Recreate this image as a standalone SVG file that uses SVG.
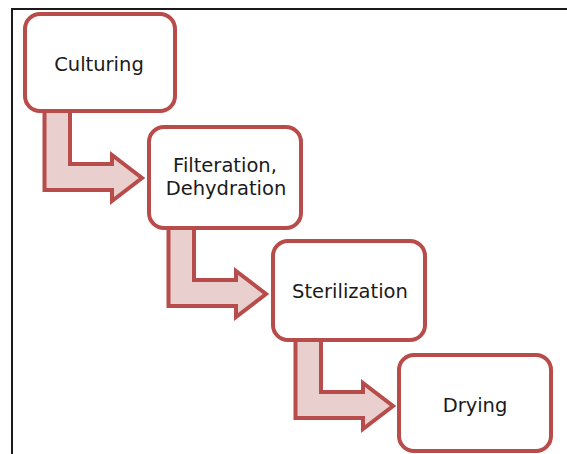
<svg xmlns="http://www.w3.org/2000/svg" width="567" height="454" viewBox="0 0 567 454">
  <defs>
    <style>
      .frame { fill: none; stroke: #1a1a1a; stroke-width: 2; }
      .box { fill: #ffffff; stroke: #B84C4A; stroke-width: 4; }
      .arrow { fill: #E9CFCE; stroke: #B84C4A; stroke-width: 4; stroke-linejoin: miter; }
      .label { font-family: "DejaVu Sans", "Liberation Sans", sans-serif; font-size: 19.5px; fill: #1a1a1a; text-anchor: middle; }
    </style>
    <path id="bent" d="M44.5,108 L70,108 L70,164 L112,164 L112,155 L142,178 L112,201 L112,190 L44.5,190 Z"/>
  </defs>
  <rect width="567" height="454" fill="#ffffff"/>
  <path class="frame" d="M12,455 L12,9 L568,9"/>
  <g id="connectors">
    <use href="#bent" class="arrow"/>
    <use href="#bent" class="arrow" transform="translate(124,116)"/>
    <use href="#bent" class="arrow" transform="translate(251,228)"/>
  </g>
  <g id="culturing">
    <rect class="box" x="25" y="14" width="150" height="97" rx="15"/>
    <text class="label" x="99" y="71">Culturing</text>
  </g>
  <g id="filteration">
    <rect class="box" x="149" y="127" width="152" height="101" rx="15"/>
    <text class="label" x="225" y="171.5">Filteration,</text>
    <text class="label" x="226" y="195">Dehydration</text>
  </g>
  <g id="sterilization">
    <rect class="box" x="273" y="241" width="152" height="99" rx="15"/>
    <text class="label" x="350" y="298">Sterilization</text>
  </g>
  <g id="drying">
    <rect class="box" x="399" y="355" width="152" height="96" rx="15"/>
    <text class="label" x="475" y="412">Drying</text>
  </g>
</svg>
